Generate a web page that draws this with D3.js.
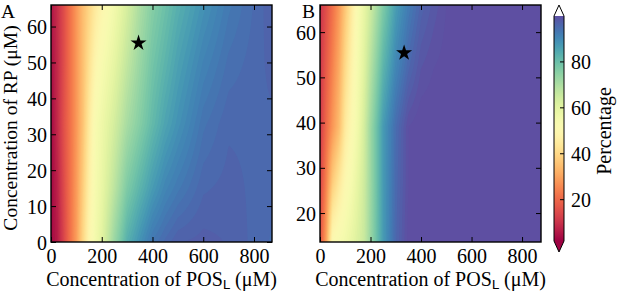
<!DOCTYPE html>
<html>
<head>
<meta charset="utf-8">
<script src="https://cdn.jsdelivr.net/npm/d3@7"></script>
<style>
body { margin: 0; background: #fff; }
text { font-family: "Liberation Serif", "Times New Roman", serif; fill: #000; }
</style>
</head>
<body>
<div id="chart"></div>
<script>
const width = 617, height = 293;

// POS_L concentration (uM) of the grid columns, shared by both panels
const xGrid = [0, 25, 50, 75, 100, 125, 150, 175, 200, 250, 300, 350, 400, 450, 500, 600, 700, 875];

// panel A: RP concentration rows and percentage
const yGridA = [0, 15, 33, 50, 66];
const valuesA = [
  [3.0, 6.2, 13.5, 21.8, 29.1, 39.5, 48.9, 55.2, 60.4, 72.9, 83.3, 88.5, 93.2, 95.3, 96.9, 97.4, 96.9, 94.8],
  [3.0, 7.2, 14.5, 21.8, 28.6, 37.4, 46.8, 54.1, 58.3, 67.7, 77.1, 82.3, 87.0, 90.6, 92.7, 95.8, 96.4, 95.3],
  [3.0, 8.8, 15.6, 21.8, 28.1, 35.4, 44.7, 53.1, 56.7, 63.5, 70.8, 76.0, 81.2, 85.4, 88.5, 93.7, 95.8, 95.8],
  [4.1, 8.8, 15.0, 21.8, 28.1, 34.8, 42.1, 48.9, 53.1, 59.3, 66.6, 72.9, 78.6, 82.3, 85.9, 91.1, 94.3, 96.4],
  [5.1, 9.3, 15.0, 21.8, 28.1, 34.3, 39.5, 44.7, 48.9, 55.7, 63.0, 70.3, 76.0, 79.7, 83.3, 88.5, 92.7, 96.9]
];

// panel B
const yGridB = [13.6, 27, 39, 52, 66];
const valuesB = [
  [16.6, 30.1, 51.0, 53.6, 55.7, 58.8, 62.0, 65.6, 72.9, 87.0, 95.8, 100.5, 101, 101, 101, 101, 101, 101],
  [13.5, 24.9, 37.4, 43.7, 50.0, 54.1, 59.3, 64.6, 72.4, 87.0, 95.3, 100, 101, 101, 101, 101, 101, 101],
  [11.4, 20.8, 28.1, 34.3, 44.7, 50.5, 56.2, 63.5, 72.4, 87.0, 94.8, 100, 101, 101, 101, 101, 101, 101],
  [10.9, 18.2, 24.9, 31.2, 40.6, 47.9, 54.6, 60.9, 68.7, 82.3, 90.6, 95.8, 99, 100, 100.5, 101, 101, 101],
  [10.3, 15.5, 21.8, 28.1, 36.4, 44.7, 53.1, 58.8, 64.6, 77.1, 86.5, 92.2, 96.4, 98.4, 100, 101, 101, 101]
];

// star markers [POS_L, RP]
const starA = [345, 55.4];
const starB = [333, 55.4];

const xTicks = [0, 200, 400, 600, 800];
const yTicksA = [0, 10, 20, 30, 40, 50, 60];
const yTicksB = [20, 30, 40, 50, 60];
const cbarTicks = [20, 40, 60, 80];
const cbarDomain = [2, 100];

const fontSize = 20;

const svg = d3.select('#chart').append('svg')
    .attr('width', width)
    .attr('height', height);

const cNorm = d3.scaleLinear().domain(cbarDomain).range([0, 1]).clamp(true);
const color = v => d3.interpolateSpectral(cNorm(v));

// bilinear lookup into the read grid
function sampler(xs, ys, z) {
    return function(x, y) {
        let i = Math.max(0, Math.min(xs.length - 2, d3.bisectRight(xs, x) - 1));
        let j = Math.max(0, Math.min(ys.length - 2, d3.bisectRight(ys, y) - 1));
        let tx = Math.max(0, Math.min(1, (x - xs[i]) / (xs[i + 1] - xs[i])));
        let ty = Math.max(0, Math.min(1, (y - ys[j]) / (ys[j + 1] - ys[j])));
        let a = z[j][i] * (1 - tx) + z[j][i + 1] * tx;
        let b = z[j + 1][i] * (1 - tx) + z[j + 1][i + 1] * tx;
        return a * (1 - ty) + b * ty;
    };
}

const panels = [
    {id: 'A', left: 51, right: 272, xMax: 871, yMin: 0, yMax: 66, ys: yGridA, z: valuesA, yTicks: yTicksA, star: starA, letterX: 1},
    {id: 'B', left: 320, right: 541, xMax: 875, yMin: 13.6, yMax: 66, ys: yGridB, z: valuesB, yTicks: yTicksB, star: starB, letterX: 302}
];
const plotTop = 5, plotBottom = 242;

panels.forEach(drawPanel);

function drawPanel(p) {
    const x = d3.scaleLinear().domain([0, p.xMax]).range([p.left, p.right]);
    const y = d3.scaleLinear().domain([p.yMin, p.yMax]).range([plotBottom, plotTop]);

    const nx = 220, ny = 237;
    const gx = d3.scaleLinear().domain([0, nx]).range([0, p.xMax]);
    const gy = d3.scaleLinear().domain([0, ny]).range([p.yMax, p.yMin]);
    const f = sampler(xGrid, p.ys, p.z);
    const grid = new Array(nx * ny);
    for (let j = 0; j < ny; j++)
        for (let i = 0; i < nx; i++)
            grid[j * nx + i] = f(gx(i + 0.5), gy(j + 0.5));

    const levels = d3.range(cbarDomain[0], cbarDomain[1] + 1, 1);
    const contours = d3.contours().size([nx, ny]).thresholds(levels)(grid);

    const path = d3.geoPath(d3.geoTransform({
        point: function(px, py) { this.stream.point(x(gx(px)), y(gy(py))); }
    }));

    svg.append('clipPath').attr('id', 'clip' + p.id)
        .append('rect')
            .attr('x', p.left).attr('y', plotTop)
            .attr('width', p.right - p.left).attr('height', plotBottom - plotTop);

    const g = svg.append('g').attr('clip-path', `url(#clip${p.id})`);
    g.append('rect')
        .attr('x', p.left).attr('y', plotTop)
        .attr('width', p.right - p.left).attr('height', plotBottom - plotTop)
        .attr('fill', color(cbarDomain[0]));
    g.selectAll('path')
        .data(contours)
        .join('path')
            .attr('d', path)
            .attr('fill', d => color(d.value + 0.5));

    // inward ticks on all four sides
    const bAxis = svg.append('g').attr('transform', `translate(0,${plotBottom})`)
        .call(d3.axisBottom(x).tickValues(xTicks).tickSizeInner(-5).tickSizeOuter(0).tickPadding(7));
    svg.append('g').attr('transform', `translate(0,${plotTop})`)
        .call(d3.axisTop(x).tickValues(xTicks).tickSizeInner(-5).tickSizeOuter(0).tickFormat(''));
    const lAxis = svg.append('g').attr('transform', `translate(${p.left},0)`)
        .call(d3.axisLeft(y).tickValues(p.yTicks).tickSizeInner(-5).tickSizeOuter(0).tickPadding(4));
    svg.append('g').attr('transform', `translate(${p.right},0)`)
        .call(d3.axisRight(y).tickValues(p.yTicks).tickSizeInner(-5).tickSizeOuter(0).tickFormat(''));
    svg.selectAll('.domain').remove();
    svg.selectAll('.tick line').attr('stroke', '#000').attr('stroke-width', 1);
    [bAxis, lAxis].forEach(a => a.selectAll('text')
        .attr('font-size', fontSize)
        .attr('font-family', '"Liberation Serif", serif')
        .attr('fill', '#000'));
    lAxis.selectAll('text').attr('dy', '0.35em');

    svg.append('rect')
        .attr('x', p.left).attr('y', plotTop)
        .attr('width', p.right - p.left).attr('height', plotBottom - plotTop)
        .attr('fill', 'none').attr('stroke', '#000').attr('stroke-width', 1.4);

    svg.append('path')
        .attr('d', d3.symbol(d3.symbolStar, 80)())
        .attr('transform', `translate(${x(p.star[0])},${y(p.star[1])})`)
        .attr('fill', '#000');

    // panel letter
    svg.append('text')
        .attr('x', p.letterX).attr('y', 17.5)
        .attr('font-size', 19.5)
        .text(p.id);

    // x title
    const xt = svg.append('text')
        .attr('x', (p.left + p.right) / 2).attr('y', 286)
        .attr('text-anchor', 'middle')
        .attr('font-size', fontSize);
    xt.append('tspan').text('Concentration of POS');
    xt.append('tspan').attr('font-family', '"DejaVu Sans", sans-serif')
        .attr('font-size', 13).attr('dy', 3).text('L');
    xt.append('tspan').attr('dy', -3).text(' (μM)');
}

// y title
svg.append('text')
    .attr('transform', `translate(17,128) rotate(-90)`)
    .attr('text-anchor', 'middle')
    .attr('font-size', 19.5)
    .text('Concentration of RP (μM)');

// colour bar
const cb = {x: 554, w: 10, top: 16, bottom: 241, tip: 11};
const cy = d3.scaleLinear().domain(cbarDomain).range([cb.bottom, cb.top]);

const grad = svg.append('defs').append('linearGradient')
    .attr('id', 'cbar').attr('x1', 0).attr('y1', 1).attr('x2', 0).attr('y2', 0);
grad.selectAll('stop')
    .data(d3.range(0, 1.0001, 0.02))
    .join('stop')
        .attr('offset', d => d)
        .attr('stop-color', d => d3.interpolateSpectral(d));

svg.append('rect')
    .attr('x', cb.x).attr('y', cb.top)
    .attr('width', cb.w).attr('height', cb.bottom - cb.top)
    .attr('fill', 'url(#cbar)');
// extension arrows
svg.append('path')
    .attr('d', `M${cb.x},${cb.top}L${cb.x + cb.w / 2},${cb.top - cb.tip}L${cb.x + cb.w},${cb.top}Z`)
    .attr('fill', '#fff');
svg.append('path')
    .attr('d', `M${cb.x},${cb.bottom}L${cb.x + cb.w / 2},${cb.bottom + cb.tip}L${cb.x + cb.w},${cb.bottom}Z`)
    .attr('fill', d3.interpolateSpectral(0));
svg.append('path')
    .attr('d', `M${cb.x},${cb.top}L${cb.x + cb.w / 2},${cb.top - cb.tip}L${cb.x + cb.w},${cb.top}` +
               `L${cb.x + cb.w},${cb.bottom}L${cb.x + cb.w / 2},${cb.bottom + cb.tip}L${cb.x},${cb.bottom}Z`)
    .attr('fill', 'none').attr('stroke', '#000').attr('stroke-width', 1);

svg.selectAll('.cbtick')
    .data(cbarTicks)
    .join('line')
        .attr('class', 'cbtick')
        .attr('x1', cb.x + cb.w - 4).attr('x2', cb.x + cb.w)
        .attr('y1', d => cy(d)).attr('y2', d => cy(d))
        .attr('stroke', '#000').attr('stroke-width', 1);
svg.selectAll('.cblabel')
    .data(cbarTicks)
    .join('text')
        .attr('class', 'cblabel')
        .attr('x', 571).attr('y', d => cy(d))
        .attr('dy', '0.35em')
        .attr('font-size', fontSize)
        .text(d => d);

svg.append('text')
    .attr('transform', `translate(611,131) rotate(-90)`)
    .attr('text-anchor', 'middle')
    .attr('font-size', fontSize)
    .text('Percentage');
</script>
</body>
</html>
